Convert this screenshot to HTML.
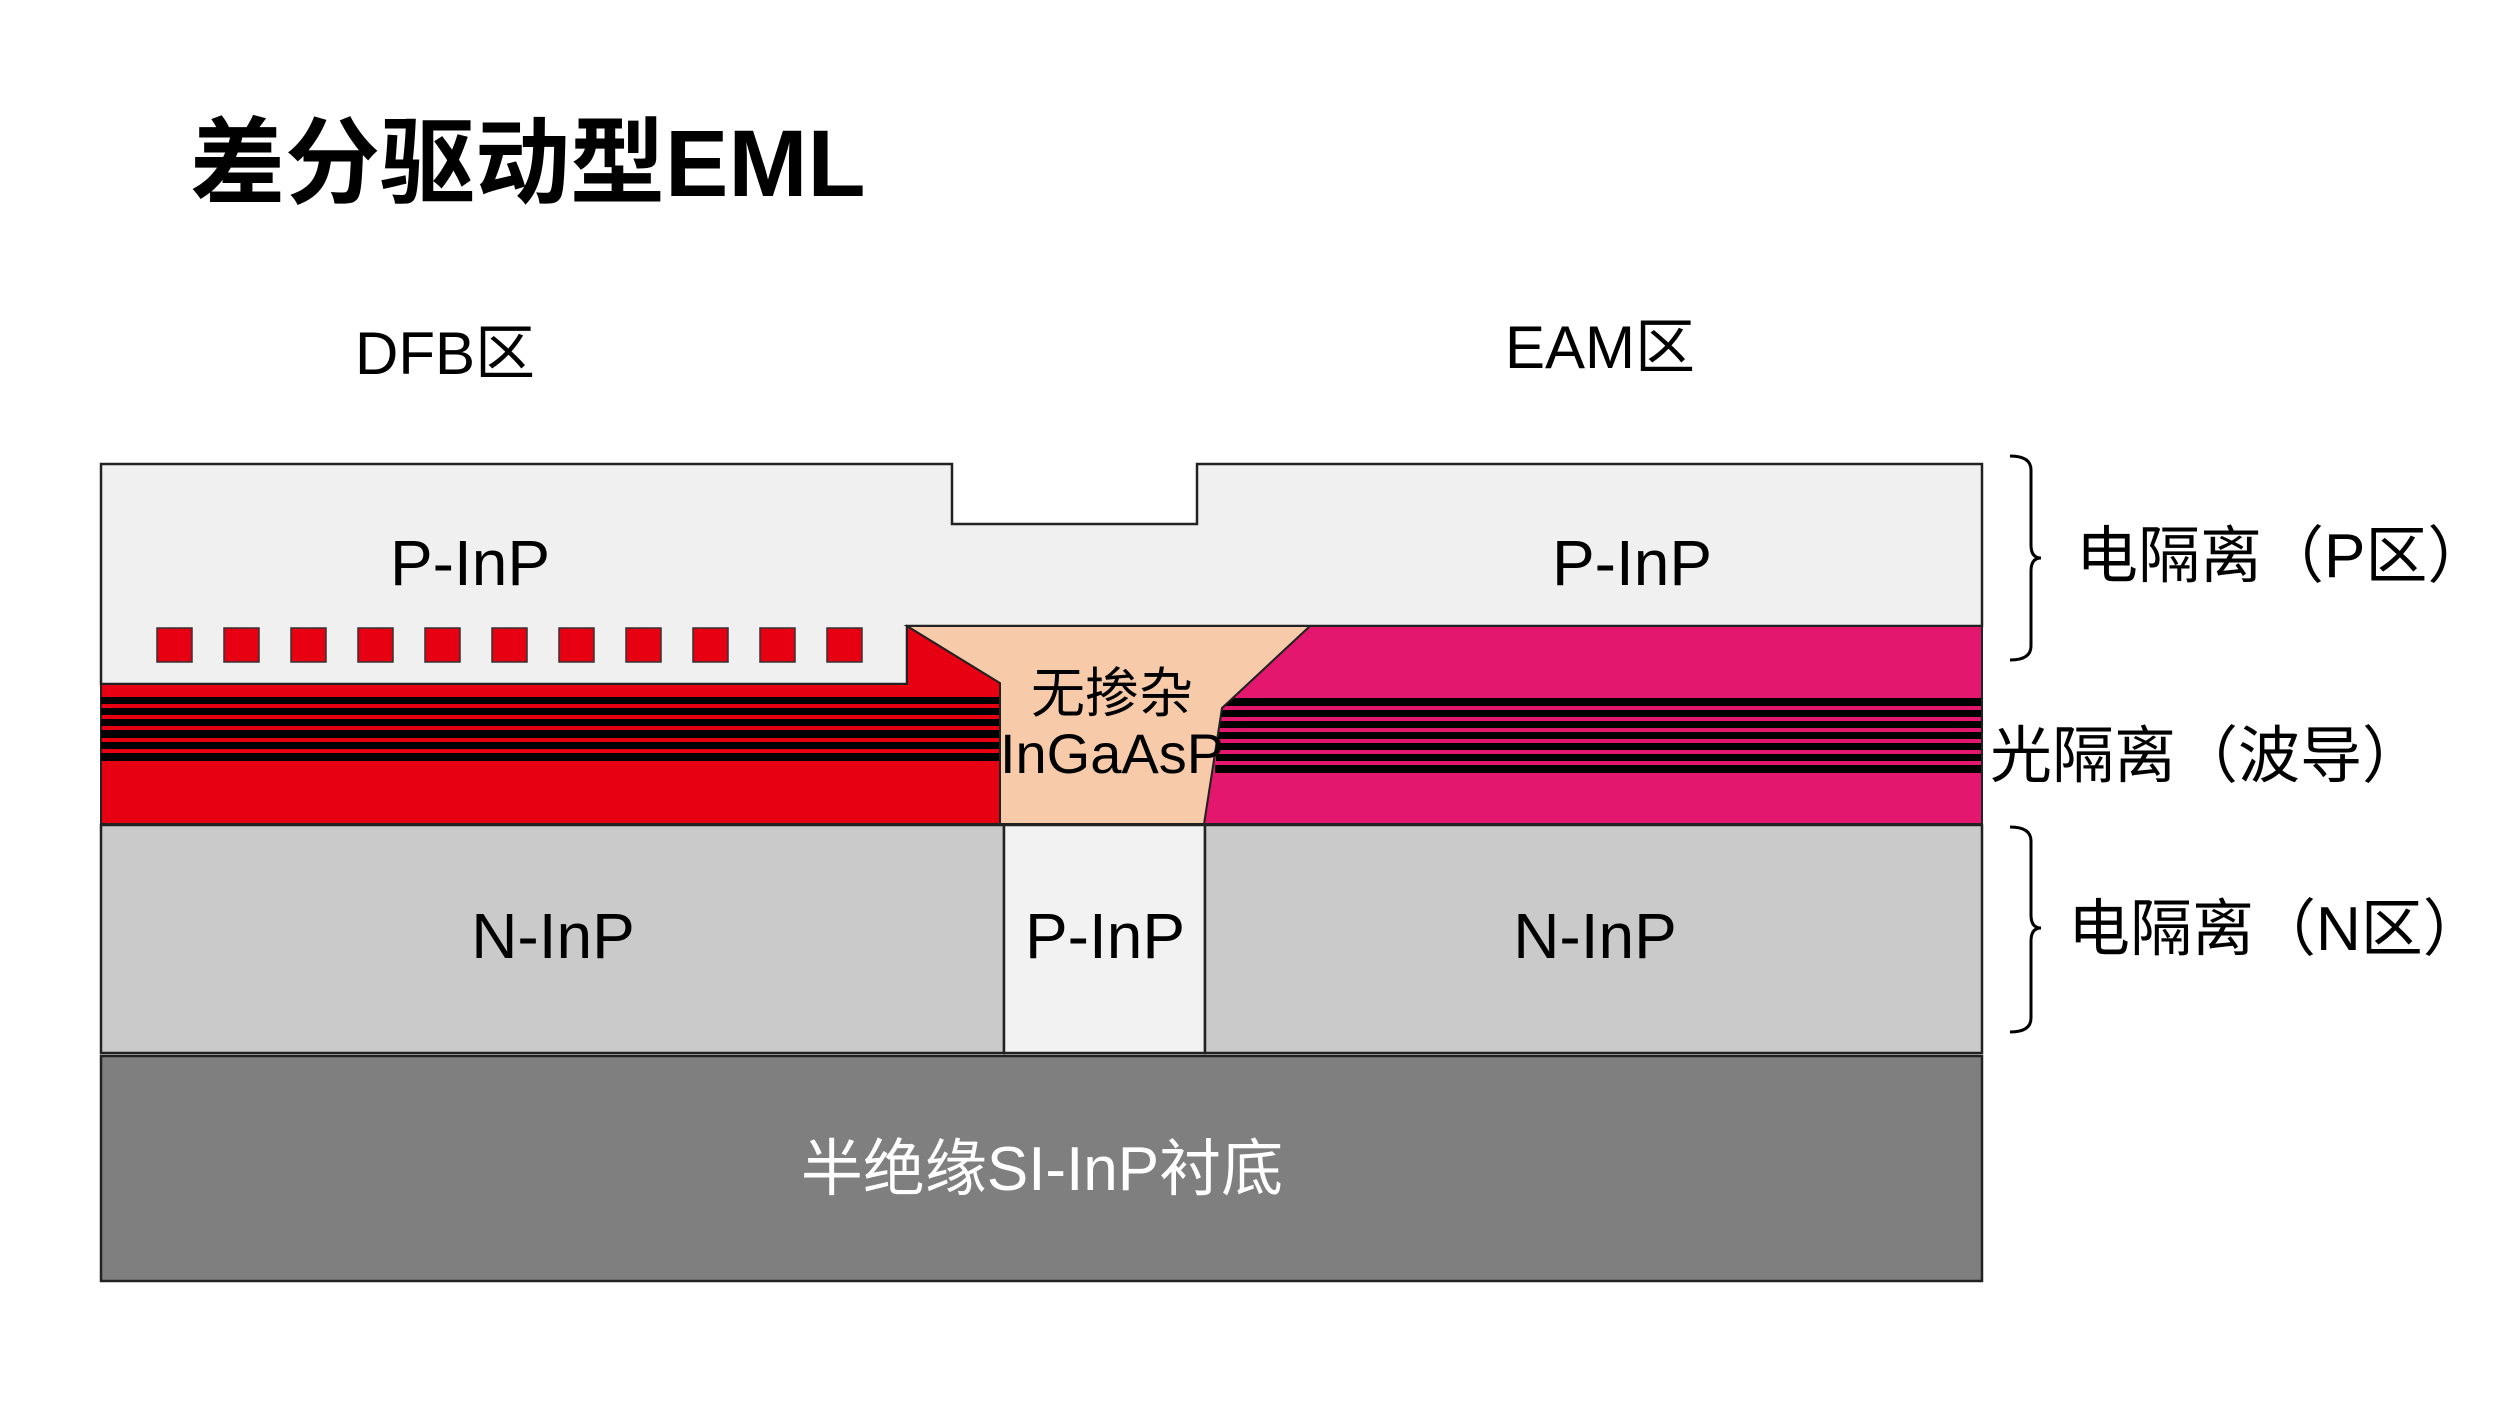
<!DOCTYPE html>
<html><head><meta charset="utf-8"><style>
html,body{margin:0;padding:0;background:#fff;}
svg{display:block;}
text{font-family:"Liberation Sans","Noto Sans CJK SC",sans-serif;}
</style></head><body>
<svg width="2500" height="1406" viewBox="0 0 2500 1406" xmlns="http://www.w3.org/2000/svg">
<rect width="2500" height="1406" fill="#fff"/>
<text x="190" y="196" font-size="95" font-weight="bold" fill="#000" font-family="Noto Sans CJK SC, sans-serif">差分驱动型EML</text>
<text x="355" y="374" font-size="60" fill="#000" font-family="Noto Sans CJK SC, sans-serif">DFB区</text>
<text x="1505" y="368" font-size="60" fill="#000" font-family="Noto Sans CJK SC, sans-serif">EAM区</text>

<polygon points="101,464 952,464 952,524 1197,524 1197,464 1982,464 1982,626 1310,626 907,626 907,684 101,684" fill="#F0F0F0" stroke="#222" stroke-width="2.5"/>
<g fill="#E60012" stroke="#333" stroke-width="1.5">
<rect x="157" y="628" width="35" height="34"/><rect x="224" y="628" width="35" height="34"/><rect x="291" y="628" width="35" height="34"/><rect x="358" y="628" width="35" height="34"/><rect x="425" y="628" width="35" height="34"/><rect x="492" y="628" width="35" height="34"/><rect x="559" y="628" width="35" height="34"/><rect x="626" y="628" width="35" height="34"/><rect x="693" y="628" width="35" height="34"/><rect x="760" y="628" width="35" height="34"/><rect x="827" y="628" width="35" height="34"/>
</g>
<polygon points="101,684 907,684 907,626 1000,683 1000,824 101,824" fill="#E60012" stroke="#222" stroke-width="2"/>
<g fill="#000">
<rect x="101" y="697" width="899" height="7"/><rect x="101" y="708" width="899" height="7"/><rect x="101" y="719" width="899" height="7"/><rect x="101" y="730" width="899" height="8"/><rect x="101" y="742" width="899" height="7"/><rect x="101" y="753" width="899" height="8"/>
</g>
<polygon points="1310,626 1982,626 1982,824 1204,824 1222,708" fill="#E4176F"/>
<g fill="#000">
<rect x="1221" y="698" width="761" height="8"/><rect x="1220" y="710" width="762" height="7"/><rect x="1219" y="721" width="763" height="7"/><rect x="1218" y="732" width="764" height="7"/><rect x="1217" y="743" width="765" height="7"/><rect x="1216" y="754" width="766" height="7"/><rect x="1215" y="765" width="767" height="8"/>
</g>
<polygon points="1310,626 1982,626 1982,824 1204,824 1222,708" fill="none" stroke="#222" stroke-width="2"/>
<polygon points="907,626 1310,626 1222,708 1204,824 1000,824 1000,683" fill="#F7CBAA" stroke="#222" stroke-width="2"/>
<text x="1112" y="712" font-size="54" text-anchor="middle" fill="#000" font-family="Noto Sans CJK SC, sans-serif">无掺杂</text>
<text x="1112" y="773" font-size="56" text-anchor="middle" fill="#000" font-family="Noto Sans CJK SC, sans-serif">InGaAsP</text>
<rect x="101" y="825" width="903" height="228" fill="#C9CAC9" stroke="#222" stroke-width="2.5"/>
<rect x="1004" y="825" width="201" height="228" fill="#F2F2F2" stroke="#222" stroke-width="2.5"/>
<rect x="1205" y="825" width="777" height="228" fill="#C9CAC9" stroke="#222" stroke-width="2.5"/>
<rect x="101" y="1056" width="1881" height="225" fill="#7F7F7F" stroke="#222" stroke-width="2.5"/>

<g font-size="64" fill="#000" text-anchor="middle" font-family="Noto Sans CJK SC, sans-serif">
<text x="470" y="585">P-InP</text>
<text x="1632" y="585">P-InP</text>
<text x="553" y="958">N-InP</text>
<text x="1105" y="958">P-InP</text>
<text x="1595" y="958">N-InP</text>
<text x="1042" y="1190" fill="#fff" font-size="62">半绝缘SI-InP衬底</text>
</g>
<path d="M2010,456 Q2031,456 2031,470 L2031,545 Q2031,558 2041,558 Q2031,558 2031,571 L2031,646 Q2031,660 2010,660" fill="none" stroke="#000" stroke-width="3"/>
<path d="M2010,827 Q2031,827 2031,841 L2031,915 Q2031,928 2041,928 Q2031,928 2031,941 L2031,1018 Q2031,1032 2010,1032" fill="none" stroke="#000" stroke-width="3"/>
<g font-size="62" fill="#000" font-family="Noto Sans CJK SC, sans-serif">
<text x="2076" y="577">电隔离（P区）</text>
<text x="1990" y="777">光隔离（波导）</text>
<text x="2068" y="950">电隔离（N区）</text>
</g>
</svg>
</body></html>
